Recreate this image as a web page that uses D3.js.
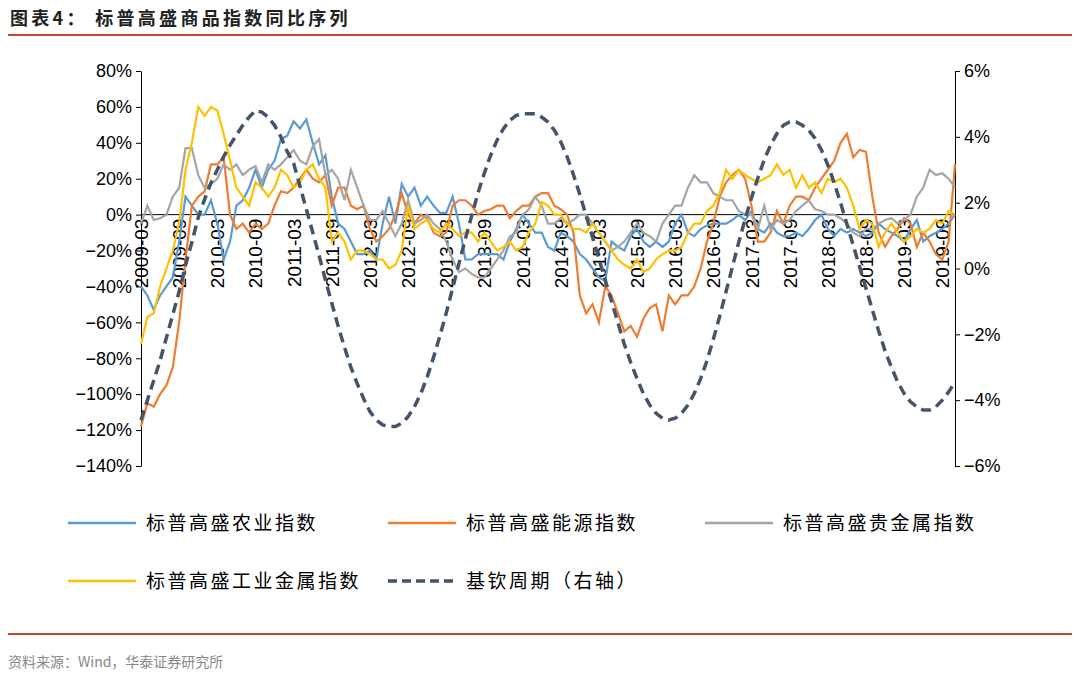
<!DOCTYPE html>
<html>
<head>
<meta charset="utf-8">
<script src="https://cdn.jsdelivr.net/npm/d3@7"></script>
<style>
  body { margin: 0; background: #fff; }
  svg { font-family: "Noto Sans CJK SC", "Liberation Sans", sans-serif; }
</style>
</head>
<body>
<svg id="chart" width="1080" height="678"></svg>
<script>
// months from 2009-03 to 2019-11
var startYear = 2009, startMonth = 3, numMonths = 129;
var leftTicks = [0.8, 0.6, 0.4, 0.2, 0, -0.2, -0.4, -0.6, -0.8, -1.0, -1.2, -1.4];
var rightTicks = [0.06, 0.04, 0.02, 0, -0.02, -0.04, -0.06];

// YoY, percent
var agri = [-40,-45,-53,-45,-40,-35,-15,10,5,0,0,8,-5,-25,-15,5,8,15,25,15,25,30,42,44,52,48,53,40,28,33,
  10,-5,-8,-15,-22,-22,-20,-25,-5,10,-5,17,10,15,5,10,5,1,1,10,-5,-25,-25,-22,-22,-22,-22,-25,-15,-8,
  0,-5,-10,-10,-18,-20,-10,-12,-15,-22,-25,-30,-35,-37,-15,-18,-20,-12,-8,-15,-18,-15,-18,-15,-5,0,-10,-12,-8,-6,
  -5,-5,-5,-3,0,-3,2,-8,-10,-5,-10,-12,-12,-10,-12,-8,-3,0,-8,-12,-8,-10,-8,-10,-12,-10,-5,-8,-10,-12,
  -15,-8,-3,-15,-12,-10,-8,-5,0];
var energy = [-118,-105,-107,-100,-95,-85,-60,-25,5,10,13,28,28,32,0,-8,-5,-10,-5,-8,-5,5,13,12,15,20,25,20,18,22,
  5,15,15,5,3,5,-8,-15,-12,-8,0,12,0,-5,0,-2,-10,-12,-10,5,8,8,5,0,2,3,5,5,-2,2,
  5,5,10,12,12,5,3,0,-10,-45,-55,-50,-60,-40,-45,-55,-65,-62,-68,-58,-52,-50,-65,-45,-50,-45,-45,-40,-30,-15,
  -5,10,18,22,25,20,5,-15,-15,-10,2,-5,5,10,10,8,15,20,25,30,40,45,32,36,35,10,-10,-18,-12,-8,
  -2,-5,-18,-10,-15,-22,-25,-15,28];
var precious = [-5,5,-3,-2,0,10,15,37,37,22,15,17,20,28,25,28,22,25,27,18,28,25,28,32,36,30,28,38,42,22,
  25,20,8,25,15,5,-3,-3,2,-5,-12,-5,8,-5,-3,0,-5,-8,-15,-25,-32,-30,-33,-35,-35,-30,-25,-20,-12,-10,
  0,3,10,5,-5,-5,-2,-5,-3,0,0,-5,-10,-15,-20,-18,-15,-10,-5,-10,-12,-15,-5,0,5,5,15,22,18,18,
  12,10,8,8,2,0,0,-8,5,-8,-3,-5,-3,2,5,8,3,2,0,0,-2,-5,-10,-12,-8,-8,-5,-3,-2,-5,
  -3,0,10,15,25,22,23,20,15];
var industrial = [-72,-57,-55,-40,-30,-20,-5,25,40,60,55,60,58,45,30,15,10,5,18,15,10,15,25,22,15,18,25,28,20,15,
  -15,-10,-15,-25,-20,-20,-22,-25,-25,-30,-28,-20,5,-8,-5,-3,-8,-10,-5,-8,-12,-10,-10,-15,-10,-15,-20,-18,-15,-20,
  -18,-10,-5,7,5,0,0,-5,-8,-8,-10,-5,-10,-15,-20,-25,-28,-30,-25,-32,-30,-25,-22,-20,-20,-18,-10,-5,-5,2,
  5,12,25,20,25,22,20,18,20,22,28,22,25,15,22,15,18,12,20,18,20,15,5,-8,-3,-5,-18,-10,-5,-10,
  -15,-12,-8,-10,-8,-3,-5,2,0];
// Kitchin cycle, percent (right axis)
var kitchin = [-4.6,-4.0,-3.4,-2.8,-2.1,-1.4,-0.7,0.1,0.8,1.55,2.1,2.6,3.0,3.4,3.75,4.05,4.35,4.6,4.8,4.75,
  4.6,4.35,4.0,3.55,3.2,2.5,1.8,1.1,0.4,-0.35,-1.05,-1.75,-2.4,-3.0,-3.5,-3.95,-4.35,-4.6,-4.75,-4.8,
  -4.8,-4.7,-4.5,-4.2,-3.8,-3.3,-2.7,-2.05,-1.35,-0.6,0.15,0.9,1.6,2.3,2.9,3.45,3.9,4.25,4.5,4.65,
  4.7,4.7,4.7,4.6,4.45,4.2,3.85,3.4,2.85,2.25,1.6,0.95,0.3,-0.35,-1.0,-1.65,-2.3,-2.85,-3.35,-3.8,
  -4.15,-4.4,-4.55,-4.6,-4.55,-4.4,-4.15,-3.8,-3.35,-2.8,-2.15,-1.45,-0.7,0.05,0.8,1.5,2.15,2.75,3.3,3.75,
  4.1,4.35,4.45,4.45,4.35,4.2,3.95,3.6,3.15,2.6,2.0,1.35,0.7,0.05,-0.6,-1.25,-1.9,-2.5,-3.0,-3.45,
  -3.8,-4.05,-4.2,-4.3,-4.3,-4.2,-4.0,-3.75,-3.45];

var svg = d3.select('#chart');
var x0 = 141, x1 = 955, yTop = 71, yBot = 466;

var x = d3.scaleLinear().domain([0, numMonths - 1]).range([x0, x1]);
var yL = d3.scaleLinear().domain([-1.4, 0.8]).range([yBot, yTop]);
var yR = d3.scaleLinear().domain([-0.06, 0.06]).range([yBot, yTop]);

function label(i) {
  var m = startMonth - 1 + i;
  var yr = startYear + Math.floor(m / 12), mo = m % 12 + 1;
  return yr + '-' + (mo < 10 ? '0' : '') + mo;
}

// title
svg.append('text').attr('x', 10).attr('y', 25).attr('font-size', 18).attr('font-weight', 'bold')
  .attr('letter-spacing', 3.3).attr('fill', '#222').text('图表4：  标普高盛商品指数同比序列');
svg.append('line').attr('x1', 8).attr('x2', 1072).attr('y1', 35).attr('y2', 35)
  .attr('stroke', '#c8452f').attr('stroke-width', 2);
svg.append('line').attr('x1', 8).attr('x2', 1072).attr('y1', 634).attr('y2', 634)
  .attr('stroke', '#c8452f').attr('stroke-width', 2);
svg.append('text').attr('x', 8).attr('y', 667).attr('font-size', 14).attr('fill', '#888')
  .text('资料来源：Wind，华泰证券研究所');

// axes
var axL = svg.append('g').attr('transform', 'translate(' + x0 + ',0)')
  .call(d3.axisLeft(yL).tickValues(leftTicks).tickFormat(d3.format('.0%')).tickSize(5).tickSizeOuter(0));
var axR = svg.append('g').attr('transform', 'translate(' + x1 + ',0)')
  .call(d3.axisRight(yR).tickValues(rightTicks).tickFormat(d3.format('.0%')).tickSize(5).tickSizeOuter(0));
[axL, axR].forEach(function(a) {
  a.selectAll('text').attr('font-family', 'Liberation Sans, Arial, sans-serif').attr('font-size', 18).attr('fill', '#000');
  a.selectAll('line,path').attr('stroke', '#000');
});
axL.selectAll('text').attr('x', -9);
axR.selectAll('text').attr('x', 9);

// zero line
svg.append('line').attr('x1', x0).attr('x2', x1).attr('y1', yL(0)).attr('y2', yL(0)).attr('stroke', '#000');

// x labels
var xt = d3.range(0, numMonths, 6);
svg.append('g').selectAll('text').data(xt).join('text')
  .attr('transform', function(d) { return 'translate(' + (x(d) + 7) + ',' + (yL(0) + 4) + ') rotate(-90)'; })
  .attr('text-anchor', 'end').attr('font-size', 19)
  .attr('font-family', 'Liberation Sans, Arial, sans-serif')
  .text(function(d) { return label(d); });

var lineL = d3.line().x(function(d, i) { return x(i); }).y(function(d) { return yL(d / 100); });
var lineR = d3.line().x(function(d, i) { return x(i); }).y(function(d) { return yR(d / 100); });

var series = [
  { data: agri, color: '#5b9bd5' },
  { data: energy, color: '#ed7d31' },
  { data: precious, color: '#a5a5a5' },
  { data: industrial, color: '#ffc000' }
];
series.forEach(function(s) {
  svg.append('path').attr('d', lineL(s.data)).attr('fill', 'none')
    .attr('stroke', s.color).attr('stroke-width', 2.2);
});
svg.append('path').attr('d', lineR(kitchin)).attr('fill', 'none')
  .attr('stroke', '#44546a').attr('stroke-width', 3.5).attr('stroke-dasharray', '10,6');

// legend
var legend = [
  { name: '标普高盛农业指数', color: '#5b9bd5', lx: 68, ly: 523 },
  { name: '标普高盛能源指数', color: '#ed7d31', lx: 388, ly: 523 },
  { name: '标普高盛贵金属指数', color: '#a5a5a5', lx: 705, ly: 523 },
  { name: '标普高盛工业金属指数', color: '#ffc000', lx: 68, ly: 581 },
  { name: '基钦周期（右轴）', color: '#44546a', lx: 388, ly: 581, dash: true }
];
var lg = svg.append('g').selectAll('g').data(legend).join('g');
lg.append('line').attr('x1', function(d) { return d.lx; }).attr('x2', function(d) { return d.lx + 68; })
  .attr('y1', function(d) { return d.ly; }).attr('y2', function(d) { return d.ly; })
  .attr('stroke', function(d) { return d.color; })
  .attr('stroke-width', function(d) { return d.dash ? 3.5 : 2.5; })
  .attr('stroke-dasharray', function(d) { return d.dash ? '9,5' : null; });
lg.append('text').attr('x', function(d) { return d.lx + 78; }).attr('y', function(d) { return d.ly + 7; })
  .attr('font-size', 19).attr('letter-spacing', 2.5).attr('fill', '#000').text(function(d) { return d.name; });
</script>
</body>
</html>
